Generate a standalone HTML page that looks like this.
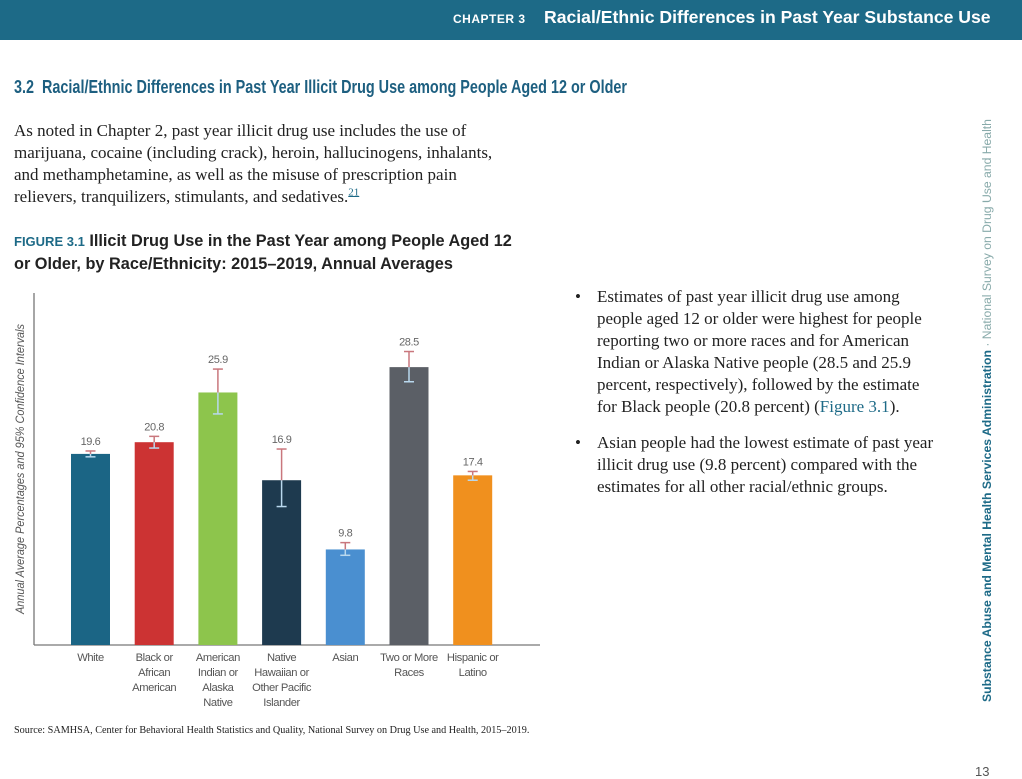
<!DOCTYPE html>
<html><head><meta charset="utf-8"><style>
body{margin:0;width:1022px;height:775px;background:#fff;position:relative;overflow:hidden;font-family:"Liberation Serif",serif;}
.abs{position:absolute;}
#hdr{left:0;top:0;width:1022px;height:40px;background:#1d6a87;}
#hdr span{position:absolute;top:8px;color:#fff;font-family:"Liberation Sans",sans-serif;font-weight:bold;white-space:nowrap;}
.para{font-size:17px;line-height:22px;color:#222;}
.bul{font-size:17px;line-height:22px;color:#222;white-space:nowrap;}
</style></head><body>
<div id="hdr" class="abs">
<span style="left:453px;top:12px;font-size:12px;letter-spacing:0.5px">CHAPTER 3</span>
<span style="left:544px;top:7px;font-size:17.6px">Racial/Ethnic Differences in Past Year Substance Use</span>
</div>
<div class="abs" style="left:14px;top:77px;font-family:'Liberation Sans',sans-serif;font-weight:bold;font-size:18px;color:#1d5f80;white-space:nowrap;transform:scaleX(0.8);transform-origin:0 0">3.2&nbsp; Racial/Ethnic Differences in Past Year Illicit Drug Use among People Aged 12 or Older</div>
<div class="abs para" style="left:14px;top:120px;width:530px;white-space:nowrap">As noted in Chapter 2, past year illicit drug use includes the use of<br>marijuana, cocaine (including crack), heroin, hallucinogens, inhalants,<br>and methamphetamine, as well as the misuse of prescription pain<br>relievers, tranquilizers, stimulants, and sedatives.<sup style="font-size:11px;line-height:0;color:#1d6a87;text-decoration:underline">21</sup></div>
<div class="abs" style="left:14px;top:230px;font-family:'Liberation Sans',sans-serif;font-weight:bold;font-size:16.3px;line-height:22px;color:#222;white-space:nowrap"><span style="color:#1d6a87;font-size:13px">FIGURE 3.1</span> Illicit Drug Use in the Past Year among People Aged 12<br>or Older, by Race/Ethnicity: 2015–2019, Annual Averages</div>
<svg class="abs" style="left:0;top:280px" width="540" height="440" id="chart"></svg>
<div class="abs" style="left:14px;top:725px;font-size:10.2px;color:#222;white-space:nowrap">Source: SAMHSA, Center for Behavioral Health Statistics and Quality, National Survey on Drug Use and Health, 2015–2019.</div>
<div class="abs bul" style="left:575px;top:286px;width:370px"><span style="position:absolute;left:0">•</span><div style="margin-left:22px">Estimates of past year illicit drug use among<br>people aged 12 or older were highest for people<br>reporting two or more races and for American<br>Indian or Alaska Native people (28.5 and 25.9<br>percent, respectively), followed by the estimate<br>for Black people (20.8 percent) (<span style="color:#1d6a87">Figure 3.1</span>).</div></div>
<div class="abs bul" style="left:575px;top:432px;width:370px"><span style="position:absolute;left:0">•</span><div style="margin-left:22px">Asian people had the lowest estimate of past year<br>illicit drug use (9.8 percent) compared with the<br>estimates for all other racial/ethnic groups.</div></div>
<div class="abs" style="left:694px;top:398px;width:590px;height:18px;transform:rotate(-90deg);font-family:'Liberation Sans',sans-serif;font-size:12.2px;white-space:nowrap;color:#1d6a87;text-align:left"><b>Substance Abuse and Mental Health Services Administration</b> <span style="color:#8aa">· National Survey on Drug Use and Health</span></div>
<div class="abs" style="left:975px;top:764px;font-family:'Liberation Sans',sans-serif;font-size:13px;color:#555">13</div>
<script>
const categories=[["White"],["Black or","African","American"],["American","Indian or","Alaska","Native"],["Native","Hawaiian or","Other Pacific","Islander"],["Asian"],["Two or More","Races"],["Hispanic or","Latino"]];
const values=[19.6,20.8,25.9,16.9,9.8,28.5,17.4];
const ciLow=[19.3,20.2,23.7,14.2,9.2,27.0,16.9];
const ciHigh=[19.9,21.4,28.3,20.1,10.5,30.1,17.8];
const colors=["#1b6585","#cc3333","#8dc54c","#1e3a4f","#4a8fd0","#5b5f66","#f0901e"];
const svg=document.getElementById('chart');
const NS="http://www.w3.org/2000/svg";
const base=365, pxPer=9.75, x0=71, step=63.7, bw=39;
const y=v=>base-v*pxPer;
const xb=i=>x0+i*step;
function mk(t,a){const e=document.createElementNS(NS,t);for(const k in a)e.setAttribute(k,a[k]);svg.appendChild(e);return e;}
let ax=mk('line',{x1:34,y1:13,x2:34,y2:base,stroke:'#777','stroke-width':1.3});


let xa=mk('line',{x1:34,y1:base,x2:540,y2:base,stroke:'#777','stroke-width':1.3});


let yt=mk('text',{x:0,y:0,transform:'translate(24,189) rotate(-90)','text-anchor':'middle','font-size':11.5,'font-style':'italic',fill:'#555','font-family':'Liberation Sans, sans-serif',textLength:290,lengthAdjust:'spacingAndGlyphs'});
yt.textContent='Annual Average Percentages and 95% Confidence Intervals';


values.forEach((v,i)=>{
 const cx=xb(i)+bw/2;
 const r=mk('rect',{x:xb(i),y:y(v),width:bw,height:v*pxPer,fill:colors[i]});
 
 
 const g=[[ciLow[i],v,'#b9d8ee'],[v,ciHigh[i],'#c9777d']];
 g.forEach(s=>{mk('line',{x1:cx,x2:cx,y1:y(s[0]),y2:y(s[1]),stroke:s[2],'stroke-width':1.5});});
 const eb=mk('line',{x1:cx-5,x2:cx+5,y1:y(ciHigh[i]),y2:y(ciHigh[i]),stroke:'#c9777d','stroke-width':1.5});
 
 
 mk('line',{x1:cx-5,x2:cx+5,y1:y(ciLow[i]),y2:y(ciLow[i]),stroke:'#b9d8ee','stroke-width':1.5});
 const lab=mk('text',{x:cx,y:y(ciHigh[i])-6,'text-anchor':'middle','font-size':11,'letter-spacing':-0.4,fill:'#666','font-family':'Liberation Sans, sans-serif'});
 lab.textContent=v.toFixed(1);
 
 
 categories[i].forEach((ln,j)=>{
  const t=mk('text',{x:cx,y:base+16+j*15,'text-anchor':'middle','font-size':11.2,'letter-spacing':-0.4,fill:'#555','font-family':'Liberation Sans, sans-serif'});
  t.textContent=ln;
  
  
 });
});
</script>
</body></html>
